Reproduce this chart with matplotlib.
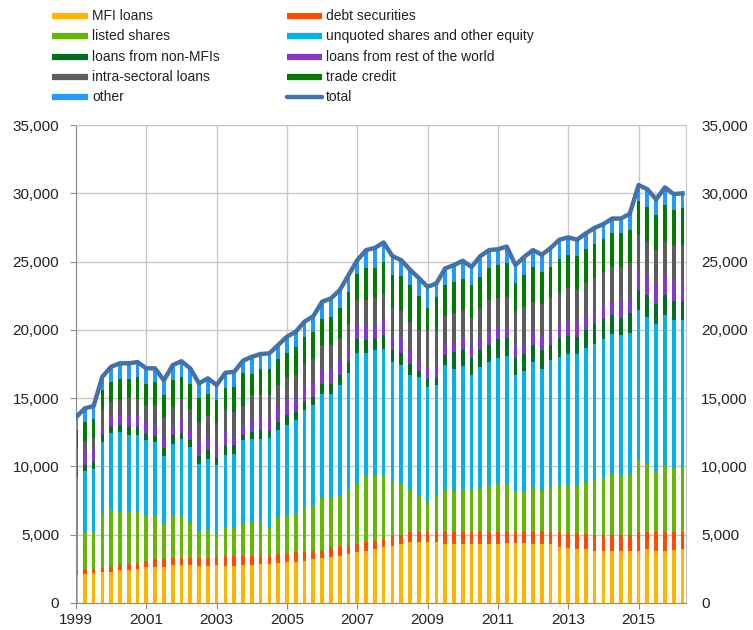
import numpy as np
import matplotlib.pyplot as plt
from matplotlib.lines import Line2D
from matplotlib.ticker import FuncFormatter

plt.rcParams['font.family'] = ['Liberation Sans', 'DejaVu Sans']

# quarterly, 1999Q1 - 2016Q2 (EUR billions)
years = ["1999", "2001", "2003", "2005", "2007", "2009", "2011", "2013", "2015"]

mfi_loans = [2060, 2130, 2200, 2250, 2300, 2380, 2380, 2500, 2670, 2670, 2620, 2750, 2750, 2750,
             2740, 2740, 2750, 2740, 2740, 2790, 2790, 2860, 2860, 2930, 2980, 3030, 3100, 3230,
             3280, 3350, 3470, 3600, 3720, 3840, 3960, 4080, 4200, 4330, 4450, 4500, 4500, 4450,
             4330, 4330, 4330, 4330, 4330, 4330, 4330, 4400, 4400, 4400, 4330, 4330, 4330, 4080,
             4000, 3960, 3960, 3840, 3840, 3840, 3840, 3840, 3840, 3960, 3840, 3840, 3890, 3960]
debt_sec = [320, 370, 300, 320, 370, 370, 440, 440, 440, 570, 620, 550, 550, 550,
            560, 560, 650, 680, 680, 630, 630, 640, 640, 670, 620, 670, 670, 610,
            560, 730, 690, 650, 610, 660, 610, 620, 700, 670, 730, 680, 730, 780,
            850, 850, 850, 850, 850, 850, 850, 830, 780, 830, 900, 970, 900, 1100,
            1130, 1170, 1100, 1160, 1160, 1160, 1160, 1160, 1340, 1220, 1340, 1340, 1290, 1220]
listed = [2620, 2730, 2800, 3960, 4230, 4020, 3830, 3710, 3290, 3160, 2630, 3100, 3100, 2600,
          2000, 2080, 1660, 2060, 2060, 2450, 2480, 2400, 2050, 2600, 2800, 2900, 3170, 3350,
          3840, 3600, 3710, 4110, 4450, 4800, 4730, 4690, 3950, 3730, 3180, 2640, 2200, 2590,
          3060, 3120, 3180, 3060, 3220, 3470, 3550, 3500, 2940, 2890, 3250, 3000, 3250, 3380,
          3520, 3430, 3790, 4050, 4200, 4460, 4300, 4460, 5260, 5020, 4520, 4890, 4700, 4700]
unquoted = [4200, 4470, 4530, 5250, 5570, 5730, 5650, 5650, 5500, 5400, 4930, 5260, 5600, 5500,
            4900, 5180, 5010, 5380, 5450, 6030, 6100, 6100, 6530, 6440, 6650, 6770, 7160, 7280,
            7650, 7650, 8070, 8510, 9560, 9040, 9200, 9210, 8800, 8670, 8310, 8730, 8370, 8120,
            9160, 8860, 9000, 8430, 8900, 9000, 9220, 9370, 8550, 8850, 9170, 8860, 9290, 9440,
            9610, 9640, 9850, 9950, 10160, 10270, 10300, 10340, 11000, 10750, 10760, 11000, 10820, 10820]
non_mfi = [400, 400, 470, 520, 430, 500, 600, 600, 500, 400, 550, 610, 470, 500,
           600, 610, 530, 610, 610, 370, 500, 640, 490, 610, 690, 630, 600, 630,
           730, 730, 730, 780, 960, 900, 800, 1060, 850, 940, 830, 450, 600, 560,
           740, 1240, 1140, 1280, 1200, 1220, 1410, 1300, 1280, 1290, 1270, 1340, 1100, 1400,
           1300, 1300, 1300, 1400, 1420, 1370, 1300, 1400, 1460, 1590, 1440, 1470, 1400, 1400]
rest_world = [600, 950, 870, 600, 840, 860, 840, 840, 850, 800, 800, 630, 980, 740,
              1000, 980, 1060, 1030, 610, 630, 1000, 960, 1030, 1150, 1160, 1100, 1200, 1100,
              1100, 1100, 1100, 1030, 1040, 1100, 1040, 1040, 1100, 1160, 1100, 770, 900, 800,
              860, 800, 1000, 880, 740, 980, 840, 800, 880, 660, 930, 1100, 1030, 1000,
              1040, 1100, 1000, 970, 1020, 1000, 1300, 1050, 1500, 1460, 1550, 1460, 1550, 1550]
intra = [1200, 780, 910, 1200, 1030, 1040, 1260, 1220, 1250, 1500, 1450, 1450, 1510, 1560,
         1450, 1550, 1540, 1600, 1830, 1500, 1700, 1650, 1650, 1590, 1600, 1600, 1600, 1650,
         1710, 1740, 1590, 1780, 1830, 1830, 1960, 1900, 1970, 1950, 2000, 2200, 2670, 2670,
         2000, 2000, 1950, 2050, 2330, 2320, 2100, 2200, 2540, 2780, 2200, 2300, 2400, 2400,
         2500, 2400, 2400, 2400, 2450, 2500, 2400, 2620, 2540, 2450, 2390, 2500, 2550, 2550]
trade_credit = [1300, 1420, 1420, 1500, 1430, 1530, 1400, 1590, 1560, 1700, 1650, 1950, 1590, 1800,
                1750, 1630, 1700, 1650, 1820, 2470, 1600, 1910, 1910, 1910, 1800, 2050, 2000, 2000,
                1910, 2050, 2240, 2340, 1930, 2380, 2250, 2400, 2430, 2490, 2700, 2530, 1630, 2430,
                2300, 2300, 2250, 2400, 2330, 2330, 2440, 2470, 2030, 2300, 2550, 2300, 2300, 2400,
                2400, 2400, 2500, 2490, 2400, 2460, 2460, 2430, 2460, 2550, 2560, 2650, 2580, 2700]
other = [900, 1000, 920, 970, 1100, 1120, 1150, 1090, 1120, 980, 1050, 1120, 1150, 1180,
         1080, 1120, 1060, 1110, 1130, 870, 1230, 1070, 1120, 990, 1200, 1110, 1100, 1150,
         1280, 1350, 1300, 1200, 1000, 1290, 1450, 1400, 1400, 1160, 1100, 1300, 1550, 1000,
         1200, 1240, 1360, 1320, 1500, 1340, 1160, 1230, 1340, 1350, 1240, 1300, 1400, 1400,
         1270, 1200, 1160, 1210, 1090, 1090, 1090, 1200, 1200, 1300, 1150, 1280, 1160, 1100]

series = [
    ("MFI loans", mfi_loans, "#FFB400"),
    ("debt securities", debt_sec, "#FF4B00"),
    ("listed shares", listed, "#65B800"),
    ("unquoted shares and other equity", unquoted, "#00B1EA"),
    ("loans from non-MFIs", non_mfi, "#00701C"),
    ("loans from rest of the world", rest_world, "#8139C6"),
    ("intra-sectoral loans", intra, "#5C5C5C"),
    ("trade credit", trade_credit, "#007A00"),
    ("other", other, "#1E9BFF"),
]
total_color = "#4372A9"

x = np.arange(len(mfi_loans))
total = np.sum([s[1] for s in series], axis=0)

W, H = 753, 630
fig = plt.figure(figsize=(W / 100, H / 100), dpi=100)
ax = fig.add_axes([76 / W, 1 - 603 / H, 610 / W, 478 / H])

bottom = np.zeros(len(x))
for name, vals, col in series:
    ax.bar(x, vals, width=0.42, bottom=bottom, color=col, linewidth=0, zorder=2)
    bottom += np.array(vals)

ax.plot(x, total, color=total_color, lw=3.2, solid_joinstyle="round", zorder=3)

ax.set_xlim(0, 69.4)
ax.set_ylim(0, 35000)
ax.set_xticks(np.arange(0, 70, 8))
ax.set_xticklabels(years)
ax.set_yticks(np.arange(0, 35001, 5000))
fmt = FuncFormatter(lambda v, p: f"{int(v):,}")
ax.yaxis.set_major_formatter(fmt)
ax.grid(True, color="#C8C8C8", lw=1.0, zorder=0)
ax.set_axisbelow(True)
for side in ["top", "right"]:
    ax.spines[side].set_color("#C8C8C8")
for side in ["left", "bottom"]:
    ax.spines[side].set_color("#8C8C8C")
ax.tick_params(axis="both", labelsize=11, colors="#8C8C8C", labelcolor="#222222", length=4)
ax.tick_params(axis="y", pad=8)
ax.tick_params(axis="x", pad=3)

ax2 = ax.twinx()
ax2.set_ylim(0, 35000)
ax2.set_yticks(np.arange(0, 35001, 5000))
ax2.yaxis.set_major_formatter(fmt)
ax2.tick_params(axis="y", length=0, labelsize=11, labelcolor="#222222", pad=11)
for sp in ax2.spines.values():
    sp.set_visible(False)

# legend drawn by hand, row by row
leg_font = {"family": ["Liberation Sans Narrow", "Liberation Sans"], "size": 10}
order = [(0, 1), (2, 3), (4, 5), (6, 7), (8, None)]
for r, (a, b) in enumerate(order):
    yy = 1 - (16 + 20.3 * r) / H
    for idx, (x0, x1) in ((a, (52, 88)), (b, (287, 322))):
        if idx is None:
            fig.add_artist(Line2D([x0 / W, x1 / W], [yy, yy], color=total_color, lw=3.2,
                                  solid_capstyle="round", transform=fig.transFigure))
            label = "total"
        else:
            fig.add_artist(Line2D([x0 / W, x1 / W], [yy, yy], color=series[idx][2], lw=4.5,
                                  solid_capstyle="butt", transform=fig.transFigure))
            label = series[idx][0]
        fig.text((x1 + 4) / W, yy, label, va="center", ha="left", color="#222222", fontdict=leg_font)

fig.savefig("out.png", dpi=100)
